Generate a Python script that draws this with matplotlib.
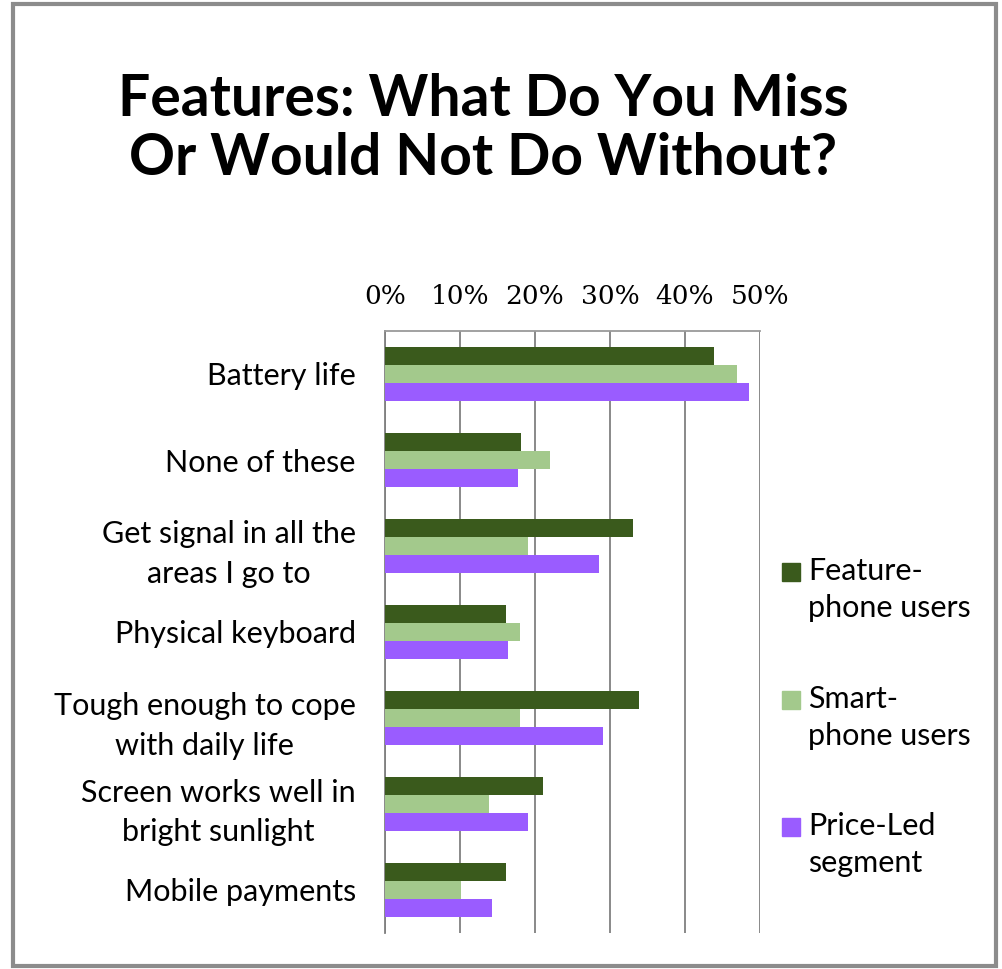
import numpy as np
import matplotlib.pyplot as plt
from matplotlib.patches import Rectangle

# Data (percent)
categories = ['Battery life', 'None of these', 'Get signal in all the\nareas I go to',
              'Physical keyboard', 'Tough enough to cope\nwith daily life',
              'Screen works well in\nbright sunlight', 'Mobile payments']
feature_phone = [43.9, 18.1, 33.1, 16.1, 33.9, 21.0, 16.1]
smart_phone = [46.9, 22.0, 19.1, 18.0, 18.0, 13.9, 10.1]
price_led = [48.5, 17.7, 28.5, 16.4, 29.1, 19.1, 14.2]
series_names = ['Feature-\nphone users', 'Smart-\nphone users', 'Price-Led\nsegment']
ticks = [0, 10, 20, 30, 40, 50]

colors = ['#3a5a1c', '#a3c98c', '#9a5cff']
sans = ['Lato', 'DejaVu Sans']
W, H = 1002, 969

fig = plt.figure(figsize=(W / 100, H / 100), dpi=100)
fig.patch.set_facecolor('white')

# outer frame
fig.patches.append(Rectangle((13 / W, 3 / H), 983 / W, 962 / H,
                             transform=fig.transFigure, fill=False,
                             edgecolor='#8c8c8c', linewidth=3))

fig.text(483 / W, 1 - 129 / H, 'Features: What Do You Miss\nOr Would Not Do Without?',
         ha='center', va='center', fontsize=41, fontweight='bold', family=sans,
         linespacing=1.13)

ax = fig.add_axes([385 / W, 1 - 933 / H, 375 / W, 602 / H])
y = np.arange(len(categories))
h = 0.21
for i, vals in enumerate([feature_phone, smart_phone, price_led]):
    ax.barh(y + (i - 1) * h, vals, height=h, color=colors[i], zorder=3)

ax.set_xlim(0, 50)
ax.set_ylim(len(categories) - 0.5, -0.5)
ax.xaxis.tick_top()
ax.set_xticks(ticks)
ax.set_xticklabels([f'{t}%' for t in ticks], fontsize=19, family='DejaVu Serif')
ax.tick_params(axis='x', length=0, pad=16)
ax.set_yticks(y)
ax.set_yticklabels(categories, fontsize=22, family=sans, multialignment='center',
                   linespacing=1.5)
ax.tick_params(axis='y', length=0, pad=21)
ax.grid(axis='x', color='#808080', linewidth=1.3, zorder=0)
ax.spines['bottom'].set_visible(False)
ax.spines['right'].set_visible(False)
ax.spines['top'].set_color('#9a9a9a')
ax.spines['top'].set_linewidth(1.3)
ax.spines['left'].set_color('#808080')
ax.spines['left'].set_linewidth(1.3)

# legend: square next to the first line of each label
for i, name in enumerate(series_names):
    ytop = 572 + 127.5 * i
    fig.patches.append(Rectangle((782 / W, 1 - (ytop + 9) / H), 18 / W, 18 / H,
                                 transform=fig.transFigure, color=colors[i]))
    fig.text(808 / W, 1 - (ytop - 15) / H, name, ha='left', va='top',
             fontsize=22, family=sans, linespacing=1.4)

fig.savefig('out.png', dpi=100)
